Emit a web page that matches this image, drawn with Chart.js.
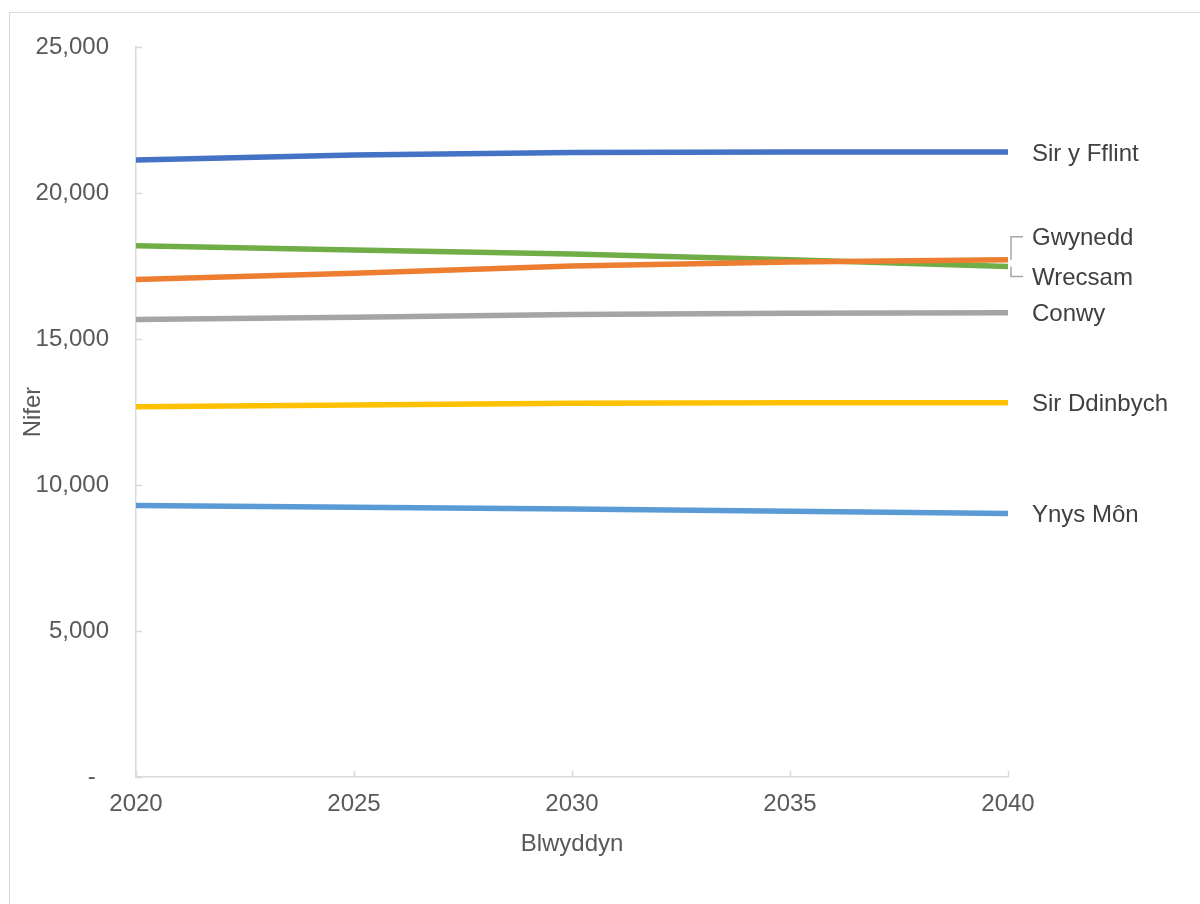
<!DOCTYPE html>
<html>
<head>
<meta charset="utf-8">
<script src="https://cdn.jsdelivr.net/npm/chart.js@4.4.1/dist/chart.umd.min.js"></script>
<style>
  html, body { margin: 0; padding: 0; background: #fff; overflow: hidden; }
  #wrap { position: relative; width: 1200px; height: 904px; }
  #frame { position: absolute; left: 9px; top: 12px; width: 1300px; height: 1000px; border: 1.5px solid #d9d9d9; box-sizing: border-box; }
  #chart { position: absolute; left: 0; top: 0; }
</style>
</head>
<body>
<div id="wrap">
  <div id="frame"></div>
  <canvas id="chart" width="1200" height="904"></canvas>
</div>
<script>
// blynyddoedd + nifer fesul sir (darllenwyd o'r siart)
const years = [2020, 2025, 2030, 2035, 2040];
const yTicks = [0, 5000, 10000, 15000, 20000, 25000];

const sirYFflint   = [21130, 21300, 21390, 21400, 21400];
const gwynedd      = [17040, 17250, 17500, 17640, 17710];
const wrecsam      = [18190, 18050, 17910, 17710, 17480];
const conwy        = [15670, 15745, 15835, 15880, 15900];
const sirDdinbych  = [12680, 12740, 12800, 12820, 12820];
const ynysMon      = [9300, 9235, 9180, 9100, 9020];

const series = [
  { label: 'Sir y Fflint', data: sirYFflint,  color: '#4472C4' },
  { label: 'Gwynedd',      data: gwynedd,     color: '#ED7D31' },
  { label: 'Wrecsam',      data: wrecsam,     color: '#70AD47' },
  { label: 'Conwy',        data: conwy,       color: '#A5A5A5' },
  { label: 'Sir Ddinbych', data: sirDdinbych, color: '#FFC000' },
  { label: 'Ynys Môn',     data: ynysMon,     color: '#5B9BD5' },
];

const FONT = 'Arial, "Liberation Sans", sans-serif';
const AXIS = '#d9d9d9';

// ticks pointing inward (Excel style)
const innerTicks = {
  id: 'innerTicks',
  afterDraw(chart) {
    const { ctx, scales: { x, y } } = chart;
    ctx.save();
    ctx.strokeStyle = AXIS;
    ctx.lineWidth = 1.5;
    ctx.beginPath();
    y.ticks.forEach(t => {
      const py = Math.round(y.getPixelForValue(t.value)) + 0.5;
      ctx.moveTo(x.left, py); ctx.lineTo(x.left + 6, py);
    });
    x.ticks.forEach(t => {
      const px = Math.round(x.getPixelForValue(t.value)) + 0.5;
      ctx.moveTo(px, y.bottom); ctx.lineTo(px, y.bottom - 6);
    });
    ctx.stroke();
    ctx.restore();
  }
};

// series names at the end of each line
const labelShift = { 'Gwynedd': -23, 'Wrecsam': 10 };
const endLabels = {
  id: 'endLabels',
  afterDatasetsDraw(chart) {
    const { ctx } = chart;
    ctx.save();
    ctx.font = '24px ' + FONT;
    ctx.fillStyle = '#404040';
    ctx.textBaseline = 'middle';
    ctx.textAlign = 'left';
    chart.data.datasets.forEach((ds, i) => {
      const pts = chart.getDatasetMeta(i).data;
      const last = pts[pts.length - 1];
      const shift = labelShift[ds.label] || 0;
      const ly = last.y + shift;
      if (shift) {
        ctx.strokeStyle = '#a6a6a6';
        ctx.lineWidth = 1.5;
        ctx.beginPath();
        ctx.moveTo(last.x + 3, last.y);
        ctx.lineTo(last.x + 3, ly);
        ctx.lineTo(last.x + 15, ly);
        ctx.stroke();
      }
      ctx.fillText(ds.label, last.x + 24, ly + 2);
    });
    ctx.restore();
  }
};

new Chart(document.getElementById('chart').getContext('2d'), {
  type: 'line',
  data: {
    datasets: series.map(s => ({
      label: s.label,
      data: years.map((yr, i) => ({ x: yr, y: s.data[i] })),
      borderColor: s.color,
      backgroundColor: s.color,
      borderWidth: 5.5,
      borderCapStyle: 'round',
      pointRadius: 0,
      tension: 0,
    }))
  },
  options: {
    responsive: false,
    animation: false,
    events: [],
    layout: { padding: { left: 0, top: 47, right: 192, bottom: 0 } },
    plugins: { legend: { display: false }, tooltip: { enabled: false } },
    scales: {
      x: {
        type: 'linear',
        min: years[0],
        max: years[years.length - 1],
        afterBuildTicks: (s) => { s.ticks = years.map(v => ({ value: v })); },
        afterFit: (s) => { s.height = 904 - 777; },
        ticks: { color: '#595959', font: { family: FONT, size: 24 }, padding: 13, callback: (v) => String(v), maxRotation: 0 },
        grid: { drawOnChartArea: false, drawTicks: false },
        border: { color: AXIS, width: 1.5 },
        title: { display: true, text: 'Blwyddyn', color: '#595959', font: { family: FONT, size: 24 }, padding: { top: 0, bottom: 45 } },
      },
      y: {
        min: 0,
        max: 25000,
        afterBuildTicks: (s) => { s.ticks = yTicks.map(v => ({ value: v })); },
        afterFit: (s) => { s.width = 136; },
        ticks: {
          color: '#595959',
          font: { family: FONT, size: 24 },
          padding: 27,
          callback: (v) => v === 0 ? '-  ' : v.toLocaleString('en-GB'),
        },
        grid: { drawOnChartArea: false, drawTicks: false },
        border: { color: AXIS, width: 1.5 },
        title: { display: true, text: 'Nifer', color: '#595959', font: { family: FONT, size: 24 }, padding: { top: 19, bottom: 0 } },
      }
    }
  },
  plugins: [innerTicks, endLabels]
});
</script>
</body>
</html>
